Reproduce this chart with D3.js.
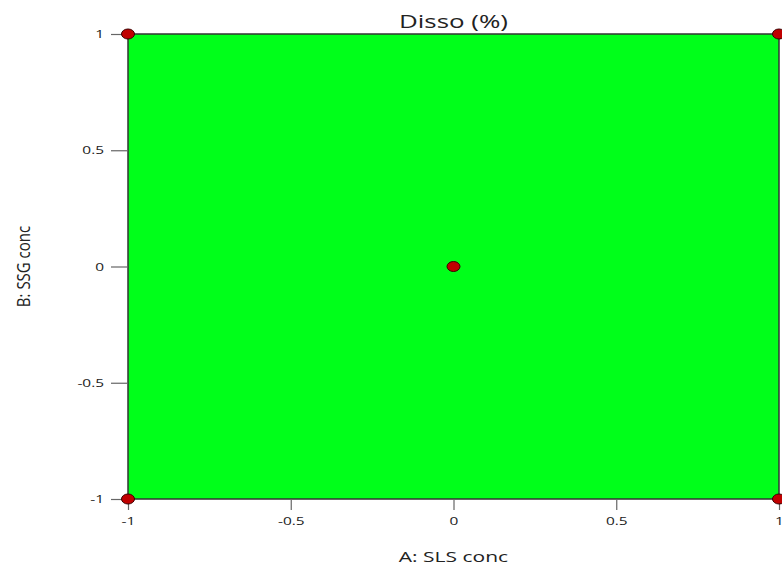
<!DOCTYPE html>
<html>
<head>
<meta charset="utf-8">
<script src="https://cdn.jsdelivr.net/npm/d3@7"></script>
<style>
  body { margin: 0; background: #fff; }
  svg text { font-family: "Open Sans", "DejaVu Sans", sans-serif; fill: #222; }
</style>
</head>
<body>
<div id="chart"></div>
<script>
// design points (coded factor levels)
var pointA = [-1, 1, -1, 1, 0];
var pointB = [1, 1, -1, -1, 0];
var xTicks = [-1, -0.5, 0, 0.5, 1];
var yTicks = [-1, -0.5, 0, 0.5, 1];

var width = 782, height = 567;
var margin = {top: 34, right: 3, bottom: 68, left: 128};
var stretch = 1.4; // the original render is wide, text looks stretched sideways

var svg = d3.select("#chart").append("svg")
  .attr("width", width)
  .attr("height", height);

var x = d3.scaleLinear().domain([-1, 1]).range([margin.left, width - margin.right]);
var y = d3.scaleLinear().domain([-1, 1]).range([height - margin.bottom, margin.top]);

function widen(sel) {
  sel.each(function() {
    var w = this.getComputedTextLength();
    d3.select(this).attr("textLength", w * stretch).attr("lengthAdjust", "spacingAndGlyphs");
  });
}

// region
svg.append("rect")
  .attr("x", x(-1)).attr("y", y(1))
  .attr("width", x(1) - x(-1)).attr("height", y(-1) - y(1))
  .attr("fill", "#00ff1a")
  .attr("stroke", "#333").attr("stroke-width", 1.5);

// axes
var fmt = function(d) { return d === 0 ? "0" : String(d); };

var xAxis = svg.append("g")
  .attr("transform", "translate(0," + y(-1) + ")")
  .call(d3.axisBottom(x).tickValues(xTicks).tickFormat(fmt).tickSize(11).tickPadding(7));
xAxis.select(".domain").remove();

var yAxis = svg.append("g")
  .attr("transform", "translate(" + x(-1) + ",0)")
  .call(d3.axisLeft(y).tickValues(yTicks).tickFormat(fmt).tickSize(17).tickPadding(7));
yAxis.select(".domain").remove();

svg.selectAll(".tick line").attr("stroke", "#666").attr("stroke-width", 1.2);
svg.selectAll(".tick text")
  .style("font-family", "'Open Sans', 'DejaVu Sans', sans-serif")
  .style("font-size", "11px")
  .attr("fill", "#222")
  .call(widen);

// design points
svg.selectAll(".pt")
  .data(d3.range(pointA.length))
  .enter()
  .append("ellipse")
  .attr("class", "pt")
  .attr("cx", function(i) { return x(pointA[i]); })
  .attr("cy", function(i) { return y(pointB[i]); })
  .attr("rx", 6.5)
  .attr("ry", 5)
  .attr("fill", "#c00000")
  .attr("stroke", "#3a0000")
  .attr("stroke-width", 1);

// title
svg.append("text")
  .attr("x", x(0)).attr("y", 28)
  .attr("text-anchor", "middle")
  .style("font-size", "18.5px")
  .text("Disso (%)")
  .call(widen);

// axis titles
svg.append("text")
  .attr("x", x(0)).attr("y", 562)
  .attr("text-anchor", "middle")
  .style("font-size", "15px")
  .text("A: SLS conc")
  .call(widen);

svg.append("text")
  .attr("transform", "translate(30," + y(0) + ") scale(1.2,1) rotate(-90)")
  .attr("text-anchor", "middle")
  .style("font-size", "15px")
  .text("B: SSG conc");
</script>
</body>
</html>
